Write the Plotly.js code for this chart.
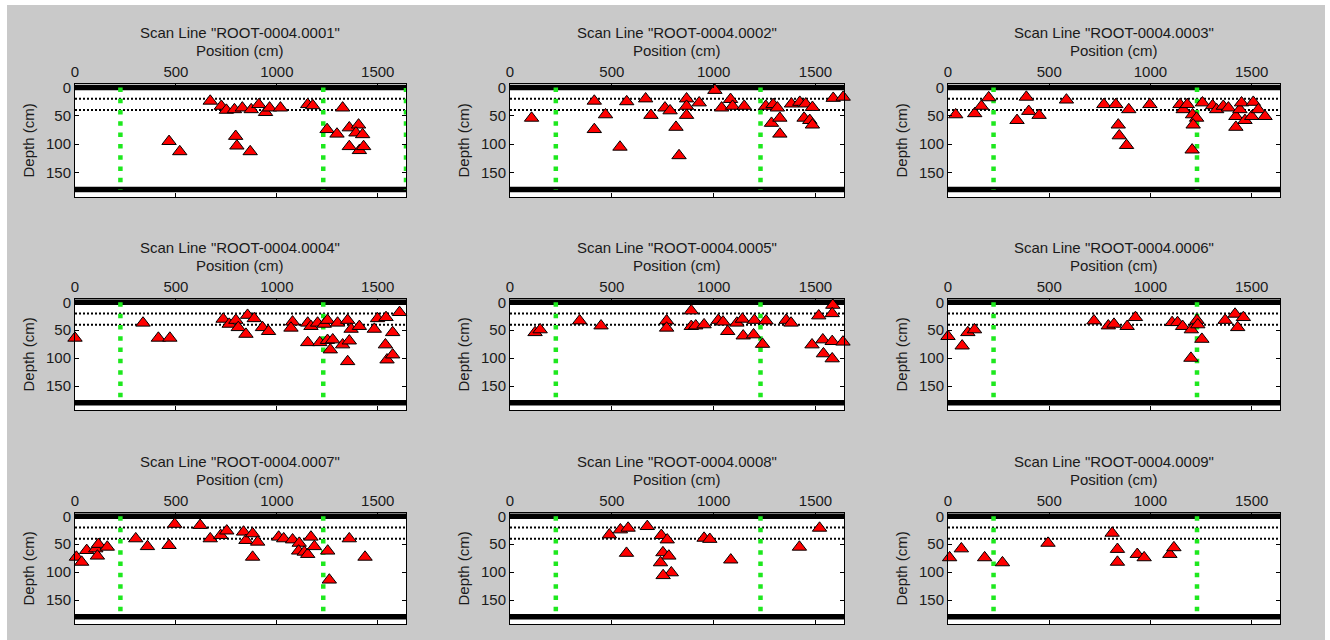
<!DOCTYPE html>
<html><head><meta charset="utf-8">
<script src="https://cdn.plot.ly/plotly-3.0.1.min.js"></script>
<style>html,body{margin:0;padding:0;background:#fff}#chart{width:1330px;height:640px}</style>
</head><body><div id="chart"></div>
<script>
// ---------- data ----------
const scanLines = ["ROOT-0004.0001","ROOT-0004.0002","ROOT-0004.0003",
                   "ROOT-0004.0004","ROOT-0004.0005","ROOT-0004.0006",
                   "ROOT-0004.0007","ROOT-0004.0008","ROOT-0004.0009"];

const pos1 = [670,725,750,790,829,873,911,944,964,1018,1153,1178,1326,466,519,796,802,868,1249,1298,1359,1405,1392,1425,1359,1409,1430];
const depth1 = [24,33,40,39,36,39,30,44,36,36,30,32,36,95,113,86,103,113,74,82,71,66,80,83,104,111,104];

const pos2 = [106,414,414,469,540,573,666,692,761,786,815,830,867,867,867,929,1006,1039,1083,1093,1150,1256,1284,1292,1313,1325,1325,1382,1423,1452,1444,1472,1485,1485,1587,1636];
const depth2 = [54,24,74,48,105,25,20,49,36,41,70,120,20,33,49,27,5,36,21,33,33,33,63,30,36,54,82,29,26,29,54,58,66,35,19,17];

const pos3 = [38,132,165,201,341,387,399,450,585,770,829,841,846,882,893,997,1146,1162,1182,1208,1228,1211,1206,1257,1307,1327,1360,1385,1422,1422,1442,1450,1467,1508,1500,1533,1566];
const depth3 = [48,46,33,18,58,17,42,49,22,30,30,66,85,102,39,30,30,39,30,48,54,66,110,27,32,39,33,36,51,70,39,27,58,26,51,39,51];

const pos4 = [0,337,413,470,734,764,797,809,847,855,888,929,959,1078,1070,1153,1169,1153,1202,1213,1235,1251,1251,1265,1277,1301,1326,1351,1368,1359,1351,1409,1483,1499,1541,1538,1546,1574,1574,1608];
const depth4 = [64,37,64,64,30,39,32,45,57,23,29,45,52,35,46,37,43,72,37,72,39,32,68,85,67,37,76,32,48,69,106,43,48,29,27,76,103,94,54,18];

const pos5 = [123,148,342,447,769,769,890,890,912,953,1023,1046,1069,1114,1141,1145,1196,1200,1240,1257,1356,1380,1516,1483,1536,1539,1582,1582,1585,1582,1635];
const depth5 = [54,49,33,42,33,46,15,43,42,40,32,35,52,37,30,60,58,32,75,33,32,37,24,76,67,92,70,101,5,20,71];

const pos6 = [0,70,98,131,721,792,820,885,926,1107,1134,1159,1202,1230,1234,1254,1200,1369,1418,1431,1459];
const depth6 = [61,78,54,49,33,42,39,43,27,36,36,43,49,32,40,66,100,32,21,45,27];

const pos7 = [7,33,58,103,116,111,160,301,359,466,494,620,670,722,752,835,847,880,905,880,1009,1034,1078,1111,1108,1136,1153,1169,1186,1252,1260,1359,1437];
const depth7 = [73,82,61,58,50,71,55,40,54,52,14,16,40,34,26,28,43,31,46,73,37,40,42,48,62,64,68,37,54,62,114,40,73];

const pos8 = [488,542,580,674,572,743,772,751,780,739,792,752,953,981,1084,1421,1520];
const depth8 = [33,24,21,18,66,34,42,65,71,83,101,106,39,41,78,55,21];

const pos9 = [8,66,181,269,494,811,837,837,935,969,1096,1116];
const depth9 = [74,58,74,83,48,30,59,82,68,74,68,56];

const positionTicks = [0,500,1000,1500];
const depthTicks = [0,50,100,150];
const positionRange = [0,1640];
const depthRange = [193,-6];

const surfaceDepth = 0;
const bottomDepth = 180;
const horizonDepths = [20,40];
const tubeMarks = [225,1230];
const tubeMarksFirst = [225,1230,1640];

// ---------- layout geometry ----------
const W = 1330, H = 640;
const colLeft = [75,510,948], colRight = [406,844,1280];
const rowTop = [84,299,513], rowBottom = [197,410,624];

const positions = [pos1,pos2,pos3,pos4,pos5,pos6,pos7,pos8,pos9];
const depths = [depth1,depth2,depth3,depth4,depth5,depth6,depth7,depth8,depth9];

const FONT = "Liberation Sans, Arial, sans-serif";
const TXT = "#1a1a1a";
const GREEN = "rgb(30,232,30)";

const traces = [];
const shapes = [];
const annotations = [];
const layout = {
  width: W, height: H,
  margin: {l:0,r:0,t:0,b:0},
  paper_bgcolor: "#c9c9c9",
  plot_bgcolor: "#ffffff",
  showlegend: false,
  font: {family: FONT, size: 15, color: TXT}
};

// white border strip of the screenshot
shapes.push({type:"rect", xref:"paper", yref:"paper", x0:0, x1:1, y0:1-5/H, y1:1, fillcolor:"#ffffff", line:{width:0}, layer:"below"});
shapes.push({type:"rect", xref:"paper", yref:"paper", x0:0, x1:7/W, y0:0, y1:1, fillcolor:"#ffffff", line:{width:0}, layer:"below"});
shapes.push({type:"rect", xref:"paper", yref:"paper", x0:1325/W, x1:1, y0:0, y1:1, fillcolor:"#ffffff", line:{width:0}, layer:"below"});

for (let i = 0; i < 9; i++) {
  const r = Math.floor(i/3), c = i % 3;
  const n = i + 1;
  const xa = n === 1 ? "x" : "x" + n;
  const ya = n === 1 ? "y" : "y" + n;
  const xk = n === 1 ? "xaxis" : "xaxis" + n;
  const yk = n === 1 ? "yaxis" : "yaxis" + n;

  layout[xk] = {
    domain: [colLeft[c]/W, colRight[c]/W],
    anchor: ya, side: "top",
    range: positionRange, tickvals: positionTicks,
    ticks: "inside", ticklen: 4, tickcolor: "#000",
    showline: true, linecolor: "#000", linewidth: 1, mirror: "ticks",
    showgrid: false, zeroline: false, fixedrange: true,
    tickfont: {family: FONT, size: 15, color: TXT}
  };
  layout[yk] = {
    domain: [1 - rowBottom[r]/H, 1 - rowTop[r]/H],
    anchor: xa,
    range: depthRange, tickvals: depthTicks,
    ticks: "inside", ticklen: 4, tickcolor: "#000",
    showline: true, linecolor: "#000", linewidth: 1, mirror: "ticks",
    showgrid: false, zeroline: false, fixedrange: true,
    tickfont: {family: FONT, size: 15, color: TXT}
  };

  // surface / bottom lines
  [surfaceDepth, bottomDepth].forEach(d => shapes.push({
    type:"line", xref: xa + " domain", yref: ya, x0:0, x1:1, y0:d, y1:d,
    line:{color:"#000", width:5.5}, layer:"below"
  }));
  // horizon dotted lines
  horizonDepths.forEach(d => shapes.push({
    type:"line", xref: xa + " domain", yref: ya, x0:0, x1:1, y0:d, y1:d,
    line:{color:"#000", width:2, dash:"2px,2px"}, layer:"below"
  }));
  // tube marks
  (n === 1 ? tubeMarksFirst : tubeMarks).forEach(p => shapes.push({
    type:"line", xref: xa, yref: ya, x0:p, x1:p, y0:surfaceDepth, y1:bottomDepth,
    line:{color:GREEN, width:4.5, dash:"4.5px,6.8px"}, layer:"below"
  }));

  traces.push({
    type:"scatter", mode:"markers", xaxis: xa, yaxis: ya,
    x: positions[i], y: depths[i], cliponaxis: false,
    marker:{symbol:"triangle-up", size:12.5, color:"#ff0000", line:{color:"#000", width:1}},
    hoverinfo:"x+y"
  });

  const cx = (colLeft[c] + colRight[c]) / 2 / W;
  annotations.push({xref:"paper", yref:"paper", x:cx, y:1 - (rowTop[r]-52)/H,
    text:'Scan Line "' + scanLines[i] + '"', showarrow:false, xanchor:"center", yanchor:"middle",
    font:{family:FONT, size:15, color:TXT}});
  annotations.push({xref:"paper", yref:"paper", x:cx, y:1 - (rowTop[r]-33.5)/H,
    text:"Position (cm)", showarrow:false, xanchor:"center", yanchor:"middle",
    font:{family:FONT, size:15, color:TXT}});
  annotations.push({xref:"paper", yref:"paper", x:(colLeft[c]-47)/W, y:1 - (rowTop[r]+rowBottom[r])/2/H,
    text:"Depth (cm)", textangle:-90, showarrow:false, xanchor:"center", yanchor:"middle",
    font:{family:FONT, size:15, color:TXT}});
}

layout.shapes = shapes;
layout.annotations = annotations;

Plotly.newPlot("chart", traces, layout, {staticPlot:true, displayModeBar:false});
</script>
</body></html>
